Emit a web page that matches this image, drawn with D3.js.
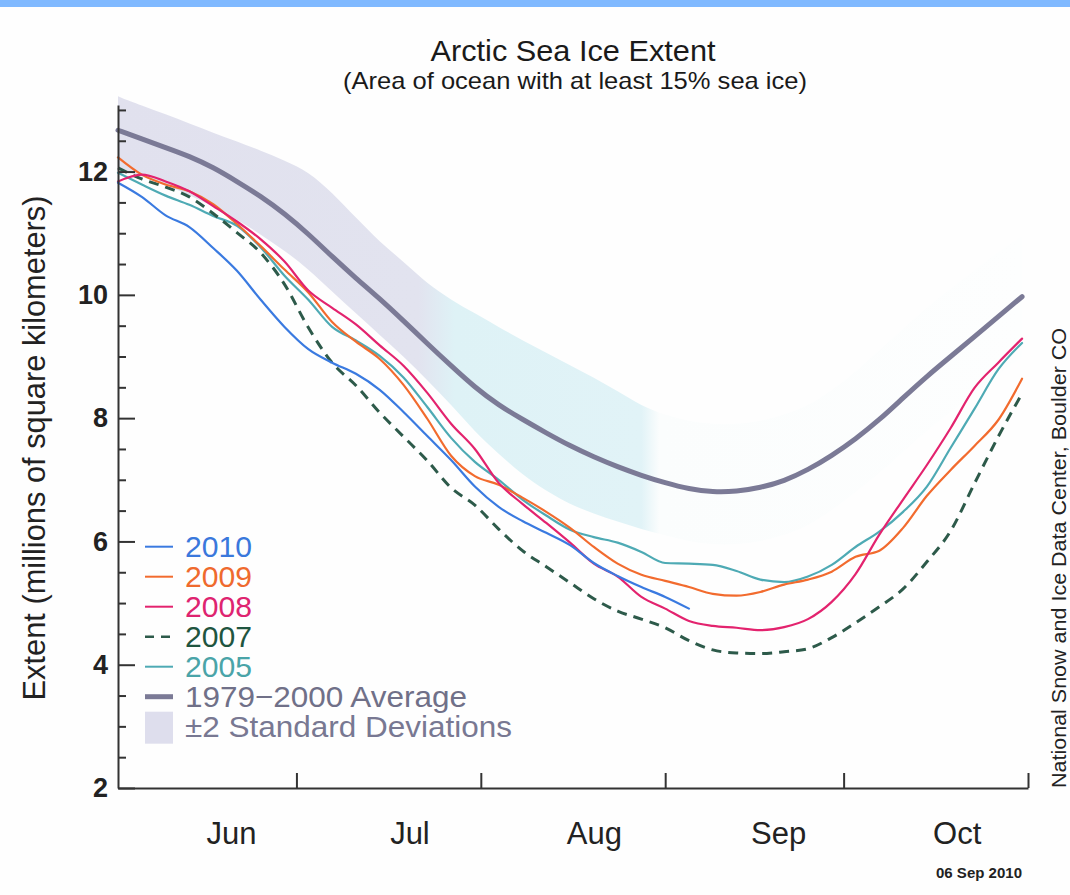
<!DOCTYPE html>
<html>
<head>
<meta charset="utf-8">
<script src="https://cdn.jsdelivr.net/npm/d3@7"></script>
<style>
  html, body { margin: 0; padding: 0; background: #ffffff; }
  svg { display: block; font-family: "Liberation Sans", Arial, Helvetica, sans-serif; }
</style>
</head>
<body>
<svg id="chart" width="1070" height="895"></svg>
<script>
// Sample dates (every 4 days, 1 Jun – 31 Oct)
const dates = [
  "2010-06-01","2010-06-05","2010-06-09","2010-06-13","2010-06-17","2010-06-21","2010-06-25","2010-06-29",
  "2010-07-03","2010-07-07","2010-07-11","2010-07-15","2010-07-19","2010-07-23","2010-07-27","2010-07-31",
  "2010-08-04","2010-08-08","2010-08-12","2010-08-16","2010-08-20","2010-08-24","2010-08-28","2010-09-01",
  "2010-09-05","2010-09-09","2010-09-13","2010-09-17","2010-09-21","2010-09-25","2010-09-29","2010-10-03",
  "2010-10-07","2010-10-11","2010-10-15","2010-10-19","2010-10-23","2010-10-27","2010-10-31"
];

// Extent, millions of km²
const avg7900 = [12.67,12.53,12.39,12.25,12.07,11.84,11.60,11.32,10.99,10.62,10.27,9.94,9.58,9.21,8.85,8.50,
  8.21,7.98,7.76,7.55,7.37,7.21,7.07,6.95,6.85,6.80,6.81,6.87,6.98,7.16,7.39,7.66,7.97,8.33,8.68,9.00,9.32,9.65,9.97];
const sdUpper = [13.22,13.07,12.93,12.78,12.63,12.49,12.34,12.18,12.00,11.66,11.25,10.86,10.54,10.18,9.92,9.70,
  9.48,9.26,9.06,8.86,8.66,8.44,8.20,8.05,7.95,7.90,7.90,7.95,8.05,8.20,8.45,8.75,9.10,9.45,9.80,10.10,10.40,10.70,10.95];
const sdLower = [12.05,11.92,11.78,11.62,11.44,11.22,10.98,10.72,10.42,10.05,9.70,9.35,9.00,8.62,8.22,7.78,
  7.42,7.08,6.82,6.60,6.45,6.32,6.20,6.10,6.00,5.95,5.95,6.00,6.10,6.25,6.50,6.80,7.10,7.45,7.80,8.10,8.40,8.70,9.00];
const ext2010 = [11.82,11.59,11.29,11.10,10.76,10.39,9.92,9.48,9.12,8.90,8.72,8.46,8.10,7.71,7.32,6.89,
  6.56,6.33,6.14,5.94,5.65,5.44,5.26,5.10,4.91];
const ext2009 = [12.23,11.95,11.79,11.68,11.47,11.15,10.79,10.41,10.04,9.56,9.24,8.96,8.54,7.99,7.39,7.06,
  6.92,6.71,6.48,6.22,5.91,5.64,5.46,5.36,5.26,5.15,5.12,5.18,5.30,5.38,5.51,5.75,5.85,6.22,6.74,7.16,7.55,7.97,8.64];
const ext2008 = [11.84,11.95,11.84,11.68,11.44,11.19,10.90,10.54,10.07,9.79,9.52,9.18,8.85,8.41,7.91,7.50,
  6.95,6.61,6.30,5.98,5.64,5.43,5.10,4.91,4.71,4.63,4.60,4.56,4.61,4.74,5.02,5.47,6.11,6.68,7.24,7.84,8.49,8.90,9.29];
const ext2007 = [12.06,11.88,11.75,11.59,11.32,11.01,10.68,10.17,9.47,8.90,8.53,8.09,7.70,7.31,6.87,6.59,
  6.20,5.85,5.59,5.33,5.07,4.87,4.74,4.60,4.39,4.24,4.19,4.18,4.21,4.26,4.44,4.68,4.94,5.23,5.67,6.17,6.94,7.70,8.40];
const ext2005 = [11.98,11.79,11.61,11.46,11.28,11.12,10.77,10.31,9.92,9.48,9.26,9.01,8.66,8.18,7.68,7.29,
  7.00,6.68,6.42,6.19,6.07,5.98,5.83,5.65,5.64,5.62,5.52,5.38,5.34,5.43,5.62,5.91,6.16,6.48,6.89,7.52,8.15,8.79,9.22];

const monthLabels = ["Jun", "Jul", "Aug", "Sep", "Oct"];
const monthLabelDates = ["2010-06-20","2010-07-20","2010-08-20","2010-09-20","2010-10-20"];
const monthTickDates = ["2010-07-01","2010-08-01","2010-09-01","2010-10-01","2010-11-01"];
const yMajorTicks = [2, 4, 6, 8, 10, 12];
const yMinorTicks = [2.5, 3, 3.5, 4.5, 5, 5.5, 6.5, 7, 7.5, 8.5, 9, 9.5, 10.5, 11, 11.5, 12.5, 13];

const legendLabels = ["2010", "2009", "2008", "2007", "2005", "1979\u22122000 Average", "\u00b12 Standard Deviations"];

const parse = d3.timeParse("%Y-%m-%d");
const svg = d3.select("#chart");
const font = "'Liberation Sans', Arial, Helvetica, sans-serif";

const x = d3.scaleTime()
  .domain([parse("2010-06-01"), parse("2010-11-01")])
  .range([118, 1028]);
const y = d3.scaleLinear()
  .domain([2, 13.08])
  .range([788, 105]);

// page background and top strip
svg.append("rect").attr("width", 1070).attr("height", 895).attr("fill", "#fefefe");
svg.append("rect").attr("x", 0).attr("y", 0).attr("width", 1070).attr("height", 7).attr("fill", "#80b9ff");

// band colour: lavender early, pale cyan through August, nearly white afterwards
const defs = svg.append("defs");
const grad = defs.append("linearGradient")
  .attr("id", "sdFill")
  .attr("gradientUnits", "userSpaceOnUse")
  .attr("x1", x.range()[0]).attr("x2", x.range()[1])
  .attr("y1", 0).attr("y2", 0);
[[0.00, "#e1e1ee"], [0.33, "#e2e3ef"], [0.37, "#def2f6"], [0.575, "#e1f3f7"], [0.595, "#fbfdfd"], [1.00, "#fdfefe"]]
  .forEach(([o, c]) => grad.append("stop").attr("offset", o).attr("stop-color", c));

const bandData = dates.map((d, i) => ({ date: parse(d), lo: sdLower[i], hi: sdUpper[i] }));
svg.append("path")
  .datum(bandData)
  .attr("fill", "url(#sdFill)")
  .attr("d", d3.area()
    .x(d => x(d.date))
    .y0(d => y(d.lo))
    .y1(d => y(d.hi))
    .curve(d3.curveBasis));

const series = [
  { values: avg7900, color: "#7b7a96", width: 5, dash: null, curve: d3.curveBasis },
  { values: ext2005, color: "#4eaab4", width: 2.2, dash: null, curve: d3.curveMonotoneX },
  { values: ext2007, color: "#2d5a4a", width: 3, dash: "10,7", curve: d3.curveMonotoneX },
  { values: ext2009, color: "#f26b2e", width: 2.2, dash: null, curve: d3.curveMonotoneX },
  { values: ext2008, color: "#e3236e", width: 2.2, dash: null, curve: d3.curveMonotoneX },
  { values: ext2010, color: "#3a7ae0", width: 2.2, dash: null, curve: d3.curveMonotoneX }
];

series.forEach(s => {
  const pts = s.values.map((v, i) => ({ date: parse(dates[i]), v }));
  const line = d3.line().x(d => x(d.date)).y(d => y(d.v)).curve(s.curve);
  svg.append("path")
    .datum(pts)
    .attr("fill", "none")
    .attr("stroke", s.color)
    .attr("stroke-width", s.width)
    .attr("stroke-linejoin", "round")
    .attr("stroke-linecap", s.dash ? "butt" : "round")
    .attr("stroke-dasharray", s.dash)
    .attr("d", line);
});

// axes
const axisColor = "#333333";
const yMinor = svg.append("g").attr("transform", "translate(118,0)")
  .call(d3.axisLeft(y).tickValues(yMinorTicks).tickSizeInner(-8).tickSizeOuter(0).tickFormat(""));
yMinor.select(".domain").remove();
const yAxis = svg.append("g").attr("transform", "translate(118,0)")
  .call(d3.axisLeft(y).tickValues(yMajorTicks).tickSizeInner(-17).tickSizeOuter(0).tickPadding(10).tickFormat(d3.format("d")));
yAxis.selectAll("text")
  .attr("font-family", font).attr("font-size", 27).attr("font-weight", "bold").attr("fill", "#222");

const xAxis = svg.append("g").attr("transform", "translate(0,788)")
  .call(d3.axisBottom(x).tickValues(monthTickDates.map(parse)).tickSizeInner(-15).tickSizeOuter(0).tickFormat(""));
const xLabels = svg.append("g").attr("transform", "translate(0,788)")
  .call(d3.axisBottom(x).tickValues(monthLabelDates.map(parse)).tickSize(0).tickPadding(34)
    .tickFormat((d, i) => monthLabels[i]));
xLabels.select(".domain").remove();
xLabels.selectAll("text").attr("font-family", font).attr("font-size", 31).attr("fill", "#222");

[yMinor, yAxis, xAxis].forEach(g => {
  g.selectAll("line").attr("stroke", axisColor).attr("stroke-width", 2);
  g.selectAll(".domain").attr("stroke", axisColor).attr("stroke-width", 2);
});

// titles
svg.append("text").attr("x", 573).attr("y", 61).attr("text-anchor", "middle")
  .attr("font-size", 29).attr("fill", "#1a1a1a")
  .attr("textLength", 285).attr("lengthAdjust", "spacingAndGlyphs")
  .text("Arctic Sea Ice Extent");
svg.append("text").attr("x", 575).attr("y", 89).attr("text-anchor", "middle")
  .attr("font-size", 24).attr("fill", "#1a1a1a")
  .attr("textLength", 464).attr("lengthAdjust", "spacingAndGlyphs")
  .text("(Area of ocean with at least 15% sea ice)");

svg.append("text")
  .attr("transform", "translate(45,448) rotate(-90)")
  .attr("text-anchor", "middle").attr("font-size", 31).attr("fill", "#222")
  .attr("textLength", 505).attr("lengthAdjust", "spacingAndGlyphs")
  .text("Extent (millions of square kilometers)");

svg.append("text")
  .attr("transform", "translate(1066,788) rotate(-90)")
  .attr("text-anchor", "start").attr("font-size", 21).attr("fill", "#222")
  .attr("textLength", 460).attr("lengthAdjust", "spacingAndGlyphs")
  .text("National Snow and Ice Data Center, Boulder CO");

svg.append("text").attr("x", 1022).attr("y", 878).attr("text-anchor", "end")
  .attr("font-size", 14.5).attr("font-weight", "bold").attr("fill", "#222")
  .attr("textLength", 86).attr("lengthAdjust", "spacingAndGlyphs")
  .text("06 Sep 2010");

// legend
const legendItems = [
  { kind: "line", color: "#3a7ae0", text: "#3a78dc", width: 2, dash: null, len: 67 },
  { kind: "line", color: "#f26b2e", text: "#ef6a2e", width: 2, dash: null, len: 67 },
  { kind: "line", color: "#e3236e", text: "#de2470", width: 2, dash: null, len: 67 },
  { kind: "line", color: "#2d5a4a", text: "#1f5540", width: 2.5, dash: "9,7", len: 67 },
  { kind: "line", color: "#4eaab4", text: "#4aa4a8", width: 2, dash: null, len: 67 },
  { kind: "line", color: "#7b7a96", text: "#707088", width: 5, dash: null, len: 282 },
  { kind: "swatch", color: "#dedeed", text: "#787892", len: 327 }
];
const lg = svg.append("g");
legendItems.forEach((it, i) => {
  const cy = 546.7 + i * 30;
  if (it.kind === "line") {
    lg.append("line").attr("x1", 145).attr("x2", 173).attr("y1", cy).attr("y2", cy)
      .attr("stroke", it.color).attr("stroke-width", it.width).attr("stroke-dasharray", it.dash);
  } else {
    lg.append("rect").attr("x", 145).attr("y", cy - 15).attr("width", 28).attr("height", 32)
      .attr("fill", it.color);
  }
  lg.append("text").attr("x", 185).attr("y", cy + 10.5)
    .attr("font-size", 30).attr("fill", it.text)
    .attr("textLength", it.len).attr("lengthAdjust", "spacingAndGlyphs")
    .text(legendLabels[i]);
});
</script>
</body>
</html>
